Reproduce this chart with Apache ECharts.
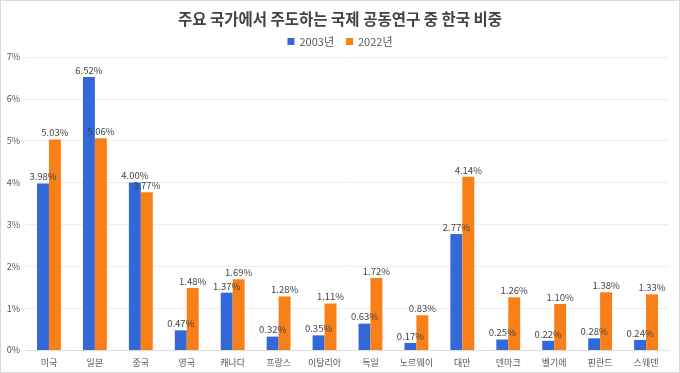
<!DOCTYPE html>
<html><head><meta charset="utf-8">
<script src="https://cdn.jsdelivr.net/npm/echarts@6/dist/echarts.min.js"></script>
<style>html,body{margin:0;padding:0;background:#fff}#c{width:680px;height:373px;box-sizing:border-box;border:1px solid #d9d9d9}</style>
</head><body><div id="c"></div>
<script>
const categories = ['미국','일본','중국','영국','캐나다','프랑스','이탈리아','독일','노르웨이','대만','덴마크','벨기에','핀란드','스웨덴'];
const values2003 = [3.98,6.52,4.00,0.47,1.37,0.32,0.35,0.63,0.17,2.77,0.25,0.22,0.28,0.24];
const values2022 = [5.03,5.06,3.77,1.48,1.69,1.28,1.11,1.72,0.83,4.14,1.26,1.10,1.38,1.33];
const seriesNames = ['2003년','2022년'];
const font = '"Noto Sans CJK KR", "Noto Sans", sans-serif';
const chart = echarts.init(document.getElementById('c'));
const lbl = {show:true, position:'top', distance:2, fontSize:9.5, color:'#444', fontFamily:font,
  formatter: p => p.value.toFixed(2) + '%'};
chart.setOption({
  animation:false,
  textStyle:{fontFamily:font},
  title:{text:'주요 국가에서 주도하는 국제 공동연구 중 한국 비중', left:'center', top:5,
    textStyle:{fontSize:15.5, fontWeight:'bold', color:'#444', fontFamily:font}},
  legend:{top:30, left:'center', itemWidth:7, itemHeight:7, itemGap:12, icon:'rect',
    textStyle:{fontSize:11, color:'#555', fontFamily:font}, data:seriesNames},
  grid:{left:25, right:10, top:56, bottom:22, containLabel:false},
  xAxis:{type:'category', data:categories,
    axisLine:{lineStyle:{color:'#ddd'}}, axisTick:{show:false},
    axisLabel:{fontSize:9, color:'#555', margin:8, interval:0, fontFamily:font}},
  yAxis:{type:'value', min:0, max:7, interval:1,
    axisLabel:{formatter:'{value}%', fontSize:9, color:'#555', margin:6, fontFamily:font},
    splitLine:{lineStyle:{color:'#eeeeee'}}},
  series:[
    {name:seriesNames[0], type:'bar', data:values2003, barGap:'0%', barCategoryGap:'48%',
      itemStyle:{color:'#3368D8'}, label:lbl},
    {name:seriesNames[1], type:'bar', data:values2022,
      itemStyle:{color:'#F98019'}, label:lbl}
  ]
});
</script></body></html>
